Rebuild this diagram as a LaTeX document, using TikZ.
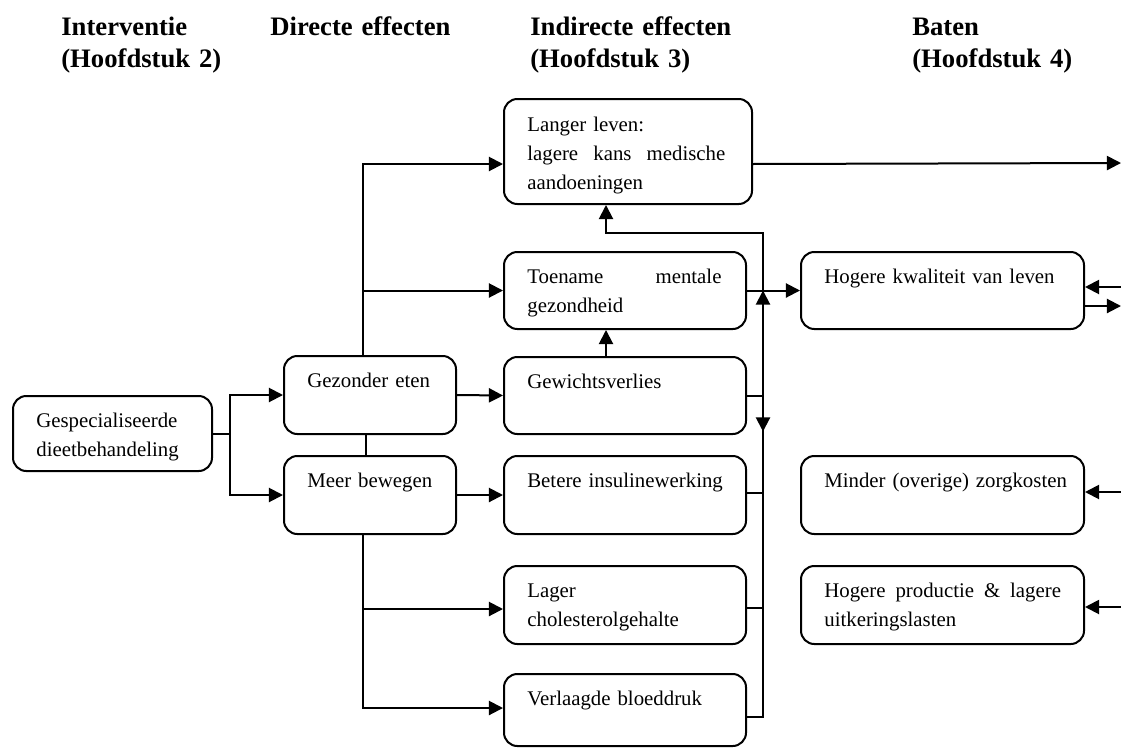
\documentclass[tikz,border=0pt]{standalone}
\usepackage{fontspec}
\setmainfont{Liberation Serif}
\usetikzlibrary{arrows.meta,calc,positioning}

\newcommand\tekstfont{\fontsize{12.5}{17.4}\selectfont}
\newcommand\kopfont{\bfseries\fontsize{16}{19.2}\selectfont}

\tikzset{
    vak/.style={draw, line width=1.2pt, rounded corners=8pt, inner sep=0pt, anchor=north west},
    tekst/.style={anchor=base west, inner sep=0pt, text width=160pt, align=left, font=\tekstfont},
    kop/.style={anchor=base west, inner sep=0pt, text width=150pt, align=left, font=\kopfont},
    lijn/.style={line width=1.2pt},
    pijl/.style={line width=1.2pt, -{Triangle[length=8.5pt,width=8.5pt]}}
}

\begin{document}
\begin{tikzpicture}[x=0.6pt, y=-0.6pt]
    \useasboundingbox (0,0) rectangle (1121,747);

    % Kolomkoppen
    \node[kop] (kop1) at (61,35) {Interventie\\(Hoofdstuk 2)};
    \node[kop] (kop2) at (270,35) {Directe effecten};
    \node[kop] (kop3) at (530,35) {Indirecte effecten\\(Hoofdstuk 3)};
    \node[kop] (kop4) at (912,35) {Baten\\(Hoofdstuk 4)};

    % Vakken
    \node[vak, minimum width=199*0.6pt, minimum height=75*0.6pt] (gesp) at (12,395) {};
    \node[vak, minimum width=172*0.6pt, minimum height=78*0.6pt] (gez) at (283,355) {};
    \node[vak, minimum width=172*0.6pt, minimum height=78*0.6pt] (meer) at (283,455) {};
    \node[vak, minimum width=248*0.6pt, minimum height=105*0.6pt] (lang) at (503,98) {};
    \node[vak, minimum width=242*0.6pt, minimum height=77*0.6pt] (toen) at (503,251) {};
    \node[vak, minimum width=242*0.6pt, minimum height=77*0.6pt] (gew) at (503,356) {};
    \node[vak, minimum width=242*0.6pt, minimum height=78*0.6pt] (bet) at (503,455) {};
    \node[vak, minimum width=242*0.6pt, minimum height=78*0.6pt] (lag) at (503,565) {};
    \node[vak, minimum width=242*0.6pt, minimum height=72*0.6pt] (verl) at (503,673) {};
    \node[vak, minimum width=283*0.6pt, minimum height=77*0.6pt] (hkw) at (800,251) {};
    \node[vak, minimum width=283*0.6pt, minimum height=78*0.6pt] (mind) at (800,455) {};
    \node[vak, minimum width=283*0.6pt, minimum height=78*0.6pt] (prod) at (800,565) {};

    % Teksten
    \node[tekst] (gespT) at ($(gesp.north west)+(24,32)$) {Gespecialiseerde\\dieetbehandeling};
    \node[tekst] (gezT) at ($(gez.north west)+(24,32)$) {Gezonder eten};
    \node[tekst] (meerT) at ($(meer.north west)+(24,32)$) {Meer bewegen};
    \node[tekst] (langT) at ($(lang.north west)+(24,33)$) {Langer leven:\\\makebox[118.8pt][s]{lagere\hfill kans\hfill medische}\\aandoeningen};
    \node[tekst] (toenT) at ($(toen.north west)+(24,32)$) {\makebox[116.5pt][s]{Toename\hfill mentale}\\gezondheid};
    \node[tekst] (gewT) at ($(gew.north west)+(24,32)$) {Gewichtsverlies};
    \node[tekst] (betT) at ($(bet.north west)+(24,32)$) {Betere insulinewerking};
    \node[tekst] (lagT) at ($(lag.north west)+(24,32)$) {Lager\\cholesterolgehalte};
    \node[tekst] (verlT) at ($(verl.north west)+(24,32)$) {Verlaagde bloeddruk};
    \node[tekst] (hkwT) at ($(hkw.north west)+(24,32)$) {Hogere kwaliteit van leven};
    \node[tekst] (mindT) at ($(mind.north west)+(24,32)$) {Minder (overige) zorgkosten};
    \node[tekst] (prodT) at ($(prod.north west)+(24,32)$) {\makebox[142pt][s]{Hogere\hfill productie\hfill \&\hfill lagere}\\uitkeringslasten};

    % Hulppunten
    \coordinate (splits) at ($(gesp.east)+(17,0)$);
    \coordinate (bus) at (763,233);
    \coordinate (uitL) at (1121,163);
    \coordinate (inH) at (1121,287);
    \coordinate (uitH) at (1121,306);
    \coordinate (inM) at (1121,492);
    \coordinate (inP) at (1121,607);

    % Interventie -> directe effecten
    \draw[lijn] (gesp.east) -- (splits);
    \draw[pijl] (splits) |- (gez.west);
    \draw[pijl] (splits) |- (meer.west);

    % Directe -> indirecte effecten
    \draw[pijl] ([xshift=-4.2pt]gez.north) |- ([yshift=-7.5pt]lang.west);
    \draw[pijl] ([xshift=-4.2pt]gez.north) |- (toen.west);
    \draw[lijn] ([xshift=-2.4pt]gez.south) -- ([xshift=-2.4pt]meer.north);
    \draw[pijl] (gez.east) -- (gew.west);
    \draw[pijl] (meer.east) -- (bet.west);
    \draw[pijl] ([xshift=-4.2pt]meer.south) |- ([yshift=-2.4pt]lag.west);
    \draw[pijl] ([xshift=-4.2pt]meer.south) |- ([yshift=1.2pt]verl.west);
    \draw[pijl] ([xshift=-11.4pt]gew.north) -- ([xshift=-11.4pt]toen.south);

    % Verzamellijn rechts
    \draw[pijl] ([yshift=-4.2pt]verl.east) -| (bus) -| ([xshift=-13.2pt]lang.south);
    \draw[lijn] (gew.east) -- (gew.east -| bus);
    \draw[lijn] ([yshift=1.2pt]bet.east) -- ([yshift=1.2pt]bet.east -| bus);
    \draw[lijn] ([yshift=-1.8pt]lag.east) -- ([yshift=-1.8pt]lag.east -| bus);
    \draw[pijl] (gew.east -| bus) -- (toen.east -| bus);
    \draw[pijl] (gew.east -| bus) -- ++(0,36);

    % Indirecte effecten -> baten
    \draw[pijl] (toen.east) -- (hkw.west);
    \draw[pijl] ([yshift=-7.5pt]lang.east) -- (uitL);
    \draw[pijl] (inH) -- (inH -| hkw.east);
    \draw[pijl] (hkw.east |- uitH) -- (uitH);
    \draw[pijl] (inM) -- (inM -| mind.east);
    \draw[pijl] (inP) -- (inP -| prod.east);
\end{tikzpicture}
\end{document}
